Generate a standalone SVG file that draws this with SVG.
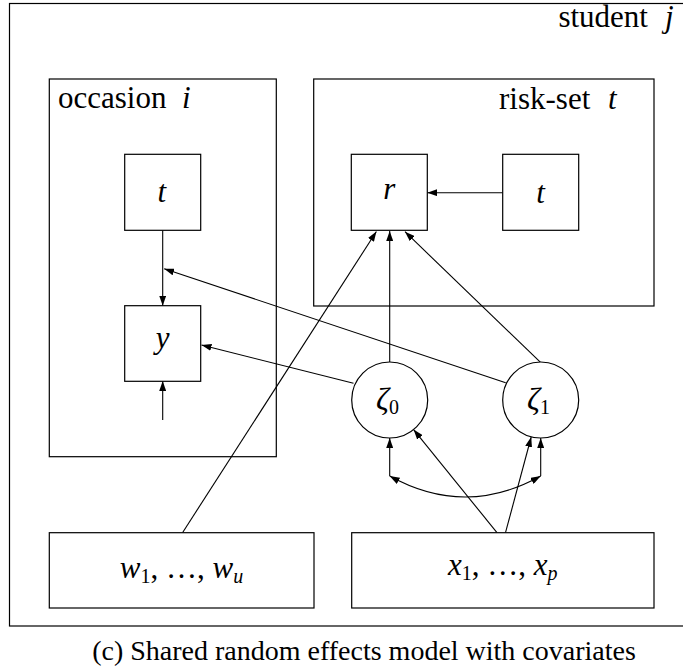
<svg xmlns="http://www.w3.org/2000/svg" width="683" height="669" viewBox="0 0 683 669">
<defs>
<style>
.box{fill:#fff;stroke:#000;stroke-width:1.2}
.plate{fill:none;stroke:#000;stroke-width:1.2}
.edge{fill:none;stroke:#000;stroke-width:1.1;marker-end:url(#ah)}
.plain{fill:none;stroke:#000;stroke-width:1.1}
.m{font-style:italic}
.c{text-anchor:middle}
</style>
<marker id="ah" viewBox="0 0 10 7" refX="10" refY="3.5" markerWidth="10" markerHeight="7" markerUnits="userSpaceOnUse" orient="auto-start-reverse">
<path d="M0,0 L10,3.5 L0,7 Z" fill="#000"/>
</marker>
</defs>
<g font-family="'Liberation Serif', 'DejaVu Serif', 'Times New Roman', serif" font-size="31" fill="#000">

<g id="plate-student">
<rect class="plate" x="9.5" y="3.5" width="700" height="622.5"/>
<text x="648" y="27" text-anchor="end">student</text>
<text class="m" x="665" y="27">j</text>
</g>

<g id="plate-occasion">
<rect class="plate" x="49.3" y="79" width="227" height="377.7"/>
<text x="58" y="108.3">occasion</text>
<text class="m" x="182" y="108.3">i</text>
</g>

<g id="plate-riskset">
<rect class="plate" x="313.7" y="79" width="340.3" height="227"/>
<text x="499" y="109.3">risk-set</text>
<text class="m" x="608" y="109.3">t</text>
</g>

<g id="connectors">
<line class="edge" x1="162.7" y1="230.3" x2="162.7" y2="305.7"/>
<line class="edge" x1="162.7" y1="420" x2="162.7" y2="381"/>
<line class="edge" x1="502.7" y1="192.7" x2="427.3" y2="192.7"/>
<line class="edge" x1="505.7" y1="382.7" x2="164.2" y2="268.8"/>
<line class="edge" x1="353.5" y1="383.3" x2="201.5" y2="345"/>
<line class="edge" x1="389.7" y1="362" x2="389.7" y2="231"/>
<line class="edge" x1="540.3" y1="362.2" x2="405" y2="231.7"/>
<line class="edge" x1="182.5" y1="532.7" x2="376.4" y2="231.5"/>
<line class="edge" x1="497" y1="532.7" x2="413.6" y2="429.6"/>
<line class="edge" x1="505.5" y1="532.7" x2="531.2" y2="437"/>
<line class="edge" x1="389.7" y1="476" x2="389.7" y2="438"/>
<line class="edge" x1="540.7" y1="476" x2="540.7" y2="438"/>
<path class="plain" d="M389.7,476 Q465.2,518 540.7,476" marker-start="url(#ah)" marker-end="url(#ah)"/>
</g>

<g id="node-t-occasion">
<rect class="box" x="124.7" y="154.3" width="76" height="76"/>
<text class="m c" x="161.7" y="202">t</text>
</g>

<g id="node-y">
<rect class="box" x="124.7" y="305.7" width="76" height="75.6"/>
<text class="m c" x="162.7" y="348">y</text>
</g>

<g id="node-r">
<rect class="box" x="351.3" y="154.3" width="76" height="76"/>
<text class="m c" x="389.3" y="198.5">r</text>
</g>

<g id="node-t-riskset">
<rect class="box" x="502.7" y="154.3" width="76" height="76"/>
<text class="m c" x="540.5" y="202.5">t</text>
</g>

<g id="node-zeta0">
<circle class="box" cx="389.7" cy="400" r="38"/>
<text x="376" y="409.5" font-size="32"><tspan class="m">ζ</tspan><tspan font-size="20" dy="4">0</tspan></text>
</g>

<g id="node-zeta1">
<circle class="box" cx="540.7" cy="400" r="38"/>
<text x="527" y="409.5" font-size="32"><tspan class="m">ζ</tspan><tspan font-size="20" dy="4">1</tspan></text>
</g>

<g id="node-w">
<rect class="box" x="49.3" y="532.7" width="264.7" height="75.3"/>
<text class="c" x="181.5" y="578.3"><tspan class="m">w</tspan><tspan font-size="20" dy="5">1</tspan><tspan dy="-5">, …, </tspan><tspan class="m">w</tspan><tspan class="m" font-size="20" dy="5">u</tspan></text>
</g>

<g id="node-x">
<rect class="box" x="351.7" y="532.7" width="302.3" height="75.3"/>
<text class="c" x="502.8" y="575"><tspan class="m">x</tspan><tspan font-size="20" dy="5">1</tspan><tspan dy="-5">, …, </tspan><tspan class="m">x</tspan><tspan class="m" font-size="20" dy="5">p</tspan></text>
</g>

<g id="caption">
<text class="c" x="364" y="660" font-size="28">(c) Shared random effects model with covariates</text>
</g>
</g>
</svg>
